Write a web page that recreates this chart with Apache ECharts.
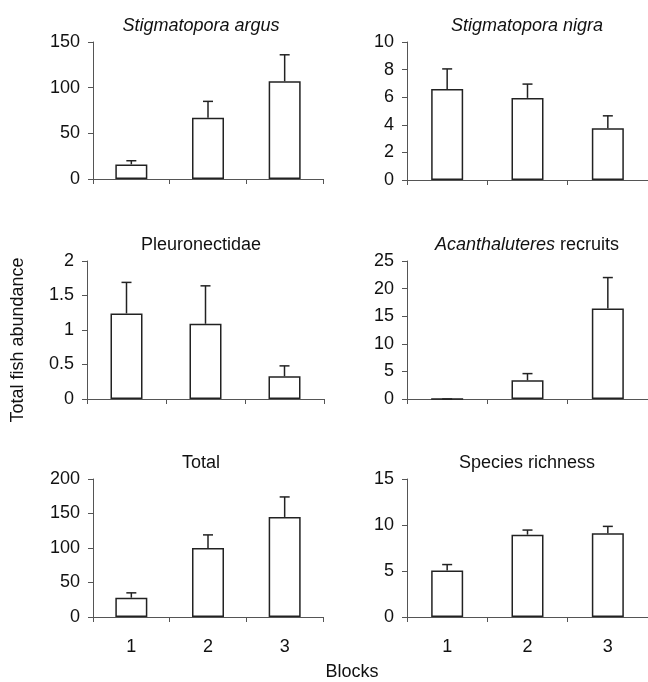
<!DOCTYPE html>
<html>
<head>
<meta charset="utf-8">
<script src="https://cdn.jsdelivr.net/npm/echarts@6/dist/echarts.min.js"></script>
<style>
html,body{margin:0;padding:0;background:#fff;}
#main{width:648px;height:682px;}
</style>
</head>
<body>
<div id="main"></div>
<script>
// 区组
var blocks = ['1', '2', '3'];
// 各面板的平均值和标准误
var argusMean = [16, 67, 107];
var argusSE = [4, 18, 29];
var nigraMean = [6.6, 5.95, 3.75];
var nigraSE = [1.45, 1.0, 0.9];
var pleuroMean = [1.24, 1.09, 0.33];
var pleuroSE = [0.45, 0.55, 0.15];
var acanthMean = [0, 3.4, 16.4];
var acanthSE = [0, 1.2, 5.6];
var totalMean = [28, 100, 145];
var totalSE = [7, 19, 29];
var richMean = [5.05, 8.95, 9.1];
var richSE = [0.65, 0.5, 0.75];
// y轴刻度
var yMax = [150, 10, 2, 25, 200, 15];
var yStep = [50, 2, 0.5, 5, 50, 5];

var FONT = 'Liberation Sans, Arial, sans-serif';
var FS = 18;
var AXIS_COLOR = '#555';
var BAR_COLOR = '#222';

var myChart = echarts.init(document.getElementById('main'));

var panels = [
    {mean: argusMean, se: argusSE, title: '{i|Stigmatopora argus}', grid: {left: 93, top: 42, width: 230, height: 137}, cx: 196, ty: 12},
    {mean: nigraMean, se: nigraSE, title: '{i|Stigmatopora nigra}', grid: {left: 407, top: 42, width: 241, height: 138}, cx: 522, ty: 12},
    {mean: pleuroMean, se: pleuroSE, title: 'Pleuronectidae', grid: {left: 87, top: 261, width: 237, height: 138}, cx: 196, ty: 231},
    {mean: acanthMean, se: acanthSE, title: '{i|Acanthaluteres} recruits', grid: {left: 407, top: 261, width: 241, height: 138}, cx: 522, ty: 231},
    {mean: totalMean, se: totalSE, title: 'Total', grid: {left: 93, top: 479, width: 230, height: 138}, cx: 196, ty: 449},
    {mean: richMean, se: richSE, title: 'Species richness', grid: {left: 407, top: 479, width: 241, height: 138}, cx: 522, ty: 449}
];

function renderErr(params, api) {
    var p0 = api.coord([api.value(0), api.value(1)]);
    var p1 = api.coord([api.value(0), api.value(2)]);
    var style = {stroke: BAR_COLOR, lineWidth: 1.5};
    return {
        type: 'group',
        children: [
            {type: 'line', shape: {x1: p0[0], y1: p0[1], x2: p1[0], y2: p1[1]}, style: style},
            {type: 'line', shape: {x1: p1[0] - 5, y1: p1[1], x2: p1[0] + 5, y2: p1[1]}, style: style}
        ]
    };
}

var grids = [], xAxes = [], yAxes = [], series = [], titles = [];
panels.forEach(function (p, k) {
    grids.push(p.grid);
    var bottomRow = k >= 4;
    xAxes.push({
        type: 'category',
        gridIndex: k,
        data: blocks,
        boundaryGap: true,
        axisLine: {lineStyle: {color: AXIS_COLOR, width: 1}},
        axisTick: {show: true, length: 5, lineStyle: {color: AXIS_COLOR}},
        axisLabel: {show: bottomRow, margin: 21, fontSize: FS, color: '#111', fontFamily: FONT}
    });
    yAxes.push({
        type: 'value',
        gridIndex: k,
        min: 0,
        max: yMax[k],
        interval: yStep[k],
        axisLine: {show: true, lineStyle: {color: AXIS_COLOR, width: 1}},
        axisTick: {show: true, length: 5, lineStyle: {color: AXIS_COLOR}},
        axisLabel: {margin: 13, fontSize: FS, color: '#111', fontFamily: FONT},
        splitLine: {show: false}
    });
    series.push({
        type: 'bar',
        xAxisIndex: k,
        yAxisIndex: k,
        barWidth: 32,
        itemStyle: {color: '#fff', borderColor: BAR_COLOR, borderWidth: 1.5},
        data: p.mean,
        z: 2
    });
    series.push({
        type: 'custom',
        xAxisIndex: k,
        yAxisIndex: k,
        renderItem: renderErr,
        data: p.mean.map(function (m, i) { return [i, m, m + p.se[i]]; }),
        z: 3
    });
    titles.push({
        text: p.title,
        left: p.cx,
        top: p.ty,
        textAlign: 'center',
        textStyle: {
            fontSize: FS,
            fontWeight: 'normal',
            color: '#111',
            fontFamily: FONT,
            rich: {i: {fontStyle: 'italic', fontSize: FS, color: '#111', fontFamily: FONT}}
        }
    });
});

option = {
    backgroundColor: '#fff',
    animation: false,
    title: titles,
    grid: grids,
    xAxis: xAxes,
    yAxis: yAxes,
    series: series,
    graphic: [
        {type: 'text', x: 18, y: 340, rotation: Math.PI / 2,
         style: {text: 'Total fish abundance', fontSize: FS, fontFamily: FONT, fill: '#111', textAlign: 'center', textVerticalAlign: 'middle'}},
        {type: 'text', x: 352, y: 672,
         style: {text: 'Blocks', fontSize: FS, fontFamily: FONT, fill: '#111', textAlign: 'center', textVerticalAlign: 'middle'}}
    ]
};
// 使用刚指定的配置项和数据显示图表。
myChart.setOption(option);
</script>
</body>
</html>
